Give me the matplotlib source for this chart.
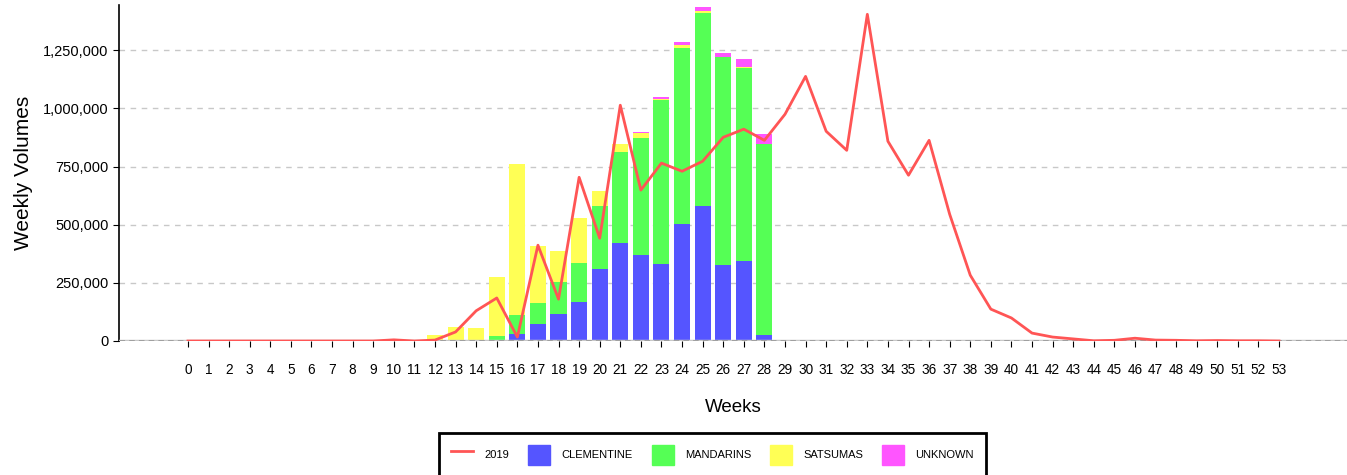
import matplotlib.pyplot as plt
from matplotlib.ticker import FuncFormatter
from matplotlib.patches import Patch
from matplotlib.lines import Line2D
import numpy as np

plt.rcParams["font.family"] = ["Liberation Sans", "DejaVu Sans"]

weeks = list(range(0, 54))

# stacked bar components per week (weeks 0..53)
clementine = [0]*16 + [30000, 73000, 116000, 167000, 309000, 421000, 369000, 331000,
                       503000, 580000, 326000, 344000, 26000] + [0]*25
mandarins = [0]*10 + [6000, 0, 2000, 0, 4000, 21000, 82000, 90000, 137000, 168000, 271000,
                      391000, 503000, 704000, 756000, 829000, 894000, 829000, 820000] + [0]*25
satsumas = [0]*12 + [24000, 60000, 52000, 254000, 648000, 245000, 134000, 193000, 64000,
                     34000, 21000, 5000, 12000, 9000, 2000, 4000, 0] + [0]*25
unknown = [0]*22 + [5000, 8000, 13000, 17000, 15000, 34000, 43000] + [0]*25

y2019 = [0]*10 + [5000, 0, 4000, 39000, 130000, 185000, 17000, 412000, 180000, 704000,
                  442000, 1014000, 649000, 765000, 730000, 773000, 876000, 911000, 863000,
                  975000, 1138000, 902000, 820000, 1405000, 859000, 713000, 863000, 545000,
                  283000, 137000, 99000, 34000, 17000, 9000, 1000, 3000, 12000, 4000, 3000,
                  1000, 2000, 1000, 1000, 0]

c_clem = "#5555FF"
c_mand = "#55FF55"
c_sats = "#FFFF55"
c_unk = "#FF55FF"
c_line = "#FF5555"

fig = plt.figure(figsize=(13.47, 4.75), dpi=100)
ax = fig.add_axes([119/1347, 1-341/475, 1-119/1347, 336/475])

x = np.array(weeks)
clem = np.array(clementine)
mand = np.array(mandarins)
sats = np.array(satsumas)
unk = np.array(unknown)

w = 0.78
ax.bar(x, clem, width=w, color=c_clem, zorder=2)
ax.bar(x, mand, width=w, bottom=clem, color=c_mand, zorder=2)
ax.bar(x, sats, width=w, bottom=clem+mand, color=c_sats, zorder=2)
ax.bar(x, unk, width=w, bottom=clem+mand+sats, color=c_unk, zorder=2)
ax.plot(x, y2019, color=c_line, linewidth=2, zorder=4)

# baseline
ax.axhline(0, color="#c8c8c8", linewidth=2.5, zorder=3)
ax.axhline(0, color="black", linewidth=1, dashes=(4, 3), zorder=3)

ax.set_xlim(-3.35, 56.3)
ax.set_ylim(0, 1445000)
ax.set_xticks(weeks)
ax.set_yticks([0, 250000, 500000, 750000, 1000000, 1250000])
ax.yaxis.set_major_formatter(FuncFormatter(lambda v, p: f"{int(v):,}"))
ax.tick_params(axis="both", length=4, color="black")
ax.tick_params(axis="y", labelsize=10.5)
ax.tick_params(axis="x", labelsize=9.8, pad=12)

for s in ["top", "right", "bottom"]:
    ax.spines[s].set_visible(False)
ax.spines["left"].set_linewidth(1.2)

for v in [250000, 500000, 750000, 1000000, 1250000]:
    ax.axhline(v, color="#c8c8c8", linewidth=1, dashes=(4, 4), zorder=1)

ax.set_xlabel("Weeks", fontsize=13.5, labelpad=16)
ax.set_ylabel("Weekly Volumes", fontsize=15, labelpad=7)

handles = [Line2D([], [], color=c_line, linewidth=2),
           Patch(color=c_clem), Patch(color=c_mand), Patch(color=c_sats), Patch(color=c_unk)]
labels = ["2019", "CLEMENTINE", "MANDARINS", "SATSUMAS", "UNKNOWN"]
leg = fig.legend(handles, labels, loc="upper center", bbox_to_anchor=(0.529, 1-433/475),
                 ncol=5, fontsize=8, fancybox=False, framealpha=1, edgecolor="black",
                 handlelength=2.0, handleheight=2.4, handletextpad=1.0,
                 columnspacing=1.7, borderpad=1.05, borderaxespad=0)
leg.get_frame().set_linewidth(2)

fig.savefig("out.png", dpi=100)
